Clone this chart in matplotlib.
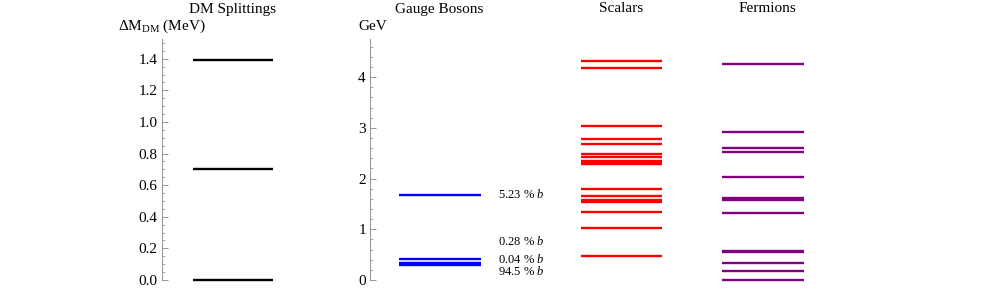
import numpy as np
import matplotlib.pyplot as plt

plt.rcParams['font.family'] = ['Liberation Serif', 'DejaVu Serif']
plt.rcParams['mathtext.fontset'] = 'custom'
plt.rcParams['mathtext.rm'] = 'Liberation Serif'
plt.rcParams['mathtext.it'] = 'Liberation Serif:italic'

# spectrum data
dm_split = [0.0, 0.70, 1.39]            # MeV
gauge = [0.30, 0.33, 0.41, 1.68]        # GeV
gauge_labels = ["94.5 % $b$", "0.04 % $b$", "0.28 % $b$", "5.23 % $b$"]
scalars = [0.47, 1.03, 1.35, 1.53, 1.57, 1.66, 1.79, 2.28, 2.31, 2.35,
           2.42, 2.49, 2.68, 2.78, 3.03, 4.18, 4.32]
fermions = [0.0, 0.18, 0.33, 0.56, 0.58, 1.32, 1.57, 1.60, 1.62, 2.03,
            2.52, 2.60, 2.92, 4.26]

W, H = 997, 301
fig = plt.figure(figsize=(W / 100, H / 100), dpi=100)

y_bot, y_top = 280, 39
def make_ax(x0, x1):
    ax = fig.add_axes([x0 / W, 1 - y_bot / H, (x1 - x0) / W, (y_bot - y_top) / H])
    ax.set_xlim(x0, x1)
    ax.patch.set_alpha(0)
    for s in ['top', 'right', 'bottom']:
        ax.spines[s].set_visible(False)
    ax.set_xticks([])
    return ax

def style_left(ax):
    ax.spines['left'].set_color('#999999')
    ax.spines['left'].set_linewidth(0.8)
    ax.tick_params(axis='y', which='both', direction='in', color='#999999',
                   labelsize=11, pad=3)
    ax.tick_params(axis='y', which='major', length=4, width=0.7)
    ax.tick_params(axis='y', which='minor', length=2, width=0.6)

# DM splittings
ax1 = make_ax(162, 300)
ax1.set_ylim(0, 1.525)
ax1.hlines(dm_split, 193, 273, color='black', lw=1.7, clip_on=False)
ax1.set_yticks(np.arange(0, 1.41, 0.2))
ax1.set_yticklabels([f"{v:.1f}" for v in np.arange(0, 1.41, 0.2)])
ax1.set_yticks(np.arange(0, 1.52, 0.05), minor=True)
style_left(ax1)

gmax = (y_bot - y_top) / 50.7

# gauge bosons
ax2 = make_ax(370, 560)
ax2.set_ylim(0, gmax)
ax2.hlines(gauge, 399, 481, color='blue', lw=1.7, clip_on=False)
ax2.set_yticks(range(0, 5))
ax2.set_yticks(np.arange(0, gmax, 0.2), minor=True)
style_left(ax2)
label_y = [0.16, 0.41, 0.75, 1.68]
for yy, t in zip(label_y, gauge_labels):
    ax2.text(498, yy, t, fontsize=9, va='center', ha='left')

# scalars
ax3 = make_ax(560, 700)
ax3.set_ylim(0, gmax)
ax3.spines['left'].set_visible(False)
ax3.set_yticks([])
ax3.hlines(scalars, 581, 662, color='red', lw=1.7, clip_on=False)

# fermions
ax4 = make_ax(700, 840)
ax4.set_ylim(0, gmax)
ax4.spines['left'].set_visible(False)
ax4.set_yticks([])
ax4.hlines(fermions, 722, 804, color='purple', lw=1.7, clip_on=False)

fs = 11
fig.text(232 / W, 1 - 9 / H, "DM Splittings", ha='center', va='center', fontsize=fs)
fig.text(439 / W, 1 - 9 / H, "Gauge Bosons", ha='center', va='center', fontsize=fs)
fig.text(621 / W, 1 - 9 / H, "Scalars", ha='center', va='center', fontsize=fs)
fig.text(767 / W, 1 - 9 / H, "Fermions", ha='center', va='center', fontsize=fs)
fig.text(118 / W, 1 - 26 / H, r"$\Delta\mathrm{M}_{\mathrm{DM}}$ (MeV)", ha='left', va='center', fontsize=fs)
fig.text(358 / W, 1 - 26 / H, "GeV", ha='left', va='center', fontsize=fs)

fig.savefig('out.png', dpi=100)
